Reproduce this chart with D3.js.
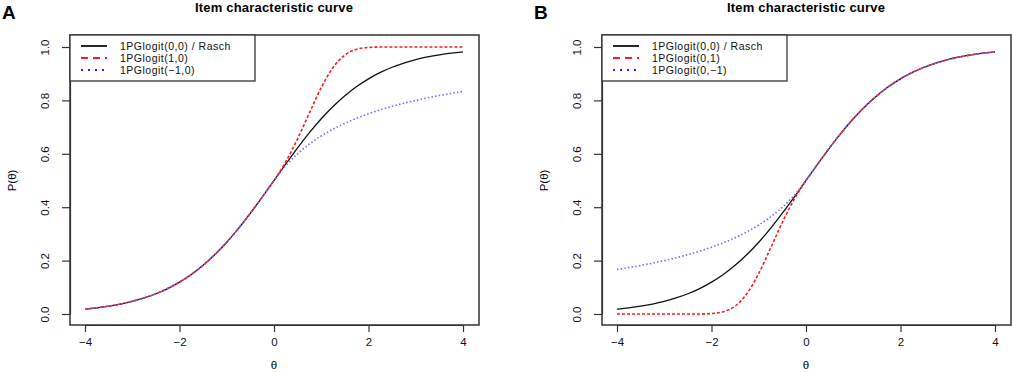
<!DOCTYPE html>
<html>
<head>
<meta charset="utf-8">
<script src="https://cdn.jsdelivr.net/npm/d3@7"></script>
<style>
  body { margin: 0; background: #fff; }
  svg { display: block; font-family: "Liberation Sans", Arial, sans-serif; }
</style>
</head>
<body>
<div id="chart"></div>
<script>
const width = 1013;
const height = 372;

// theta grid, step 0.25
const theta = [-4, -3.75, -3.5, -3.25, -3, -2.75, -2.5, -2.25, -2, -1.75, -1.5, -1.25, -1, -0.75, -0.5, -0.25,
    0, 0.25, 0.5, 0.75, 1, 1.25, 1.5, 1.75, 2, 2.25, 2.5, 2.75, 3, 3.25, 3.5, 3.75, 4];

// 1PGlogit(0,0) / Rasch
const rasch = [0.0180, 0.0230, 0.0293, 0.0373, 0.0474, 0.0601, 0.0759, 0.0953, 0.1192, 0.1480, 0.1824, 0.2227,
    0.2689, 0.3208, 0.3775, 0.4378, 0.5, 0.5622, 0.6225, 0.6792, 0.7311, 0.7773, 0.8176, 0.8520, 0.8808,
    0.9047, 0.9241, 0.9399, 0.9526, 0.9627, 0.9707, 0.9770, 0.9820];

// panel A
const a10 = [0.0180, 0.0230, 0.0293, 0.0373, 0.0474, 0.0601, 0.0759, 0.0953, 0.1192, 0.1480, 0.1824, 0.2227,
    0.2689, 0.3208, 0.3775, 0.4378, 0.5, 0.5705, 0.6567, 0.7534, 0.8479, 0.9235, 0.9701, 0.9915, 0.9983,
    0.9998, 1.0, 1.0, 1.0, 1.0, 1.0, 1.0, 1.0];
const aM10 = [0.0180, 0.0230, 0.0293, 0.0373, 0.0474, 0.0601, 0.0759, 0.0953, 0.1192, 0.1480, 0.1824, 0.2227,
    0.2689, 0.3208, 0.3775, 0.4378, 0.5, 0.5556, 0.6000, 0.6364, 0.6667, 0.6923, 0.7143, 0.7333, 0.7500,
    0.7647, 0.7778, 0.7895, 0.8000, 0.8095, 0.8182, 0.8261, 0.8333];

// panel B
const b01 = [0, 0, 0, 0, 0, 0, 0, 0.0002, 0.0017, 0.0085, 0.0299, 0.0765, 0.1521, 0.2466, 0.3433, 0.4295,
    0.5, 0.5622, 0.6225, 0.6792, 0.7311, 0.7773, 0.8176, 0.8520, 0.8808, 0.9047, 0.9241, 0.9399, 0.9526,
    0.9627, 0.9707, 0.9770, 0.9820];
const b0M1 = [0.1667, 0.1739, 0.1818, 0.1905, 0.2000, 0.2105, 0.2222, 0.2353, 0.2500, 0.2667, 0.2857, 0.3077,
    0.3333, 0.3636, 0.4000, 0.4444, 0.5, 0.5622, 0.6225, 0.6792, 0.7311, 0.7773, 0.8176, 0.8520, 0.8808,
    0.9047, 0.9241, 0.9399, 0.9526, 0.9627, 0.9707, 0.9770, 0.9820];

const xTicks = [-4, -2, 0, 2, 4];
const yTicks = [0, 0.2, 0.4, 0.6, 0.8, 1.0];

const styles = [
    { color: '#111', dash: null, legendDash: null, legendColor: '#111', width: 1.3 },
    { color: '#ff1a1a', dash: '3,2', legendDash: '7,5', legendColor: '#ff1a1a', width: 1.6 },
    { color: '#6f6fff', dash: '1.5,2.2', legendDash: '2,5', legendColor: '#2222ff', width: 1.6 }
];

const panels = [
    { letter: 'A', left: 70, series: [rasch, a10, aM10],
      names: ['1PGlogit(0,0) / Rasch', '1PGlogit(1,0)', '1PGlogit(\u22121,0)'] },
    { letter: 'B', left: 602, series: [rasch, b01, b0M1],
      names: ['1PGlogit(0,0) / Rasch', '1PGlogit(0,1)', '1PGlogit(0,\u22121)'] }
];

const svg = d3.select('#chart')
    .append('svg')
    .attr('width', width)
    .attr('height', height);

svg.append('rect').attr('width', width).attr('height', height).attr('fill', '#fff');

const boxW = 409;
const boxTop = 35;
const boxBottom = 325;

panels.forEach(p => {
    const g = svg.append('g');
    const x = d3.scaleLinear().domain([-4, 4]).range([p.left + 15, p.left + 393]);
    const y = d3.scaleLinear().domain([0, 1]).range([314, 47]);

    // x-axis
    const xAxis = g.append('g')
        .attr('transform', `translate(0,${boxBottom})`)
        .call(d3.axisBottom(x).tickValues(xTicks).tickSize(7).tickSizeOuter(0).tickPadding(6).tickFormat(d3.format('d')));
    xAxis.selectAll('text').attr('font-size', 11.5).attr('fill', '#111');

    // y-axis
    const yAxis = g.append('g')
        .attr('transform', `translate(${p.left},0)`)
        .call(d3.axisLeft(y).tickValues(yTicks).tickSize(8).tickSizeOuter(0).tickFormat(d3.format('.1f')));
    yAxis.selectAll('text')
        .attr('x', 0).attr('dy', '0.35em')
        .attr('text-anchor', 'middle')
        .attr('transform', 'translate(-25,0) rotate(-90)')
        .attr('font-size', 11.5).attr('fill', '#111');
    g.selectAll('.domain, .tick line').attr('stroke', '#333').attr('stroke-width', 1.2);

    // curves
    const line = d3.line()
        .x((d, i) => x(theta[i]))
        .y(d => y(d))
        .curve(d3.curveMonotoneX);

    p.series.forEach((s, i) => {
        g.append('path')
            .datum(s)
            .attr('d', line)
            .attr('fill', 'none')
            .attr('stroke', styles[i].color)
            .attr('stroke-width', styles[i].width)
            .attr('stroke-dasharray', styles[i].dash);
    });

    // box
    g.append('rect')
        .attr('x', p.left).attr('y', boxTop)
        .attr('width', boxW).attr('height', boxBottom - boxTop)
        .attr('fill', 'none').attr('stroke', '#333').attr('stroke-width', 1.5);

    // legend
    const lg = g.append('g').attr('transform', `translate(${p.left},${boxTop})`);
    lg.append('rect')
        .attr('width', 185).attr('height', 46)
        .attr('fill', '#fff').attr('stroke', '#333').attr('stroke-width', 1.3);
    p.names.forEach((name, i) => {
        const yy = 11 + i * 12;
        lg.append('line')
            .attr('x1', 11).attr('x2', 37).attr('y1', yy).attr('y2', yy)
            .attr('stroke', styles[i].legendColor)
            .attr('stroke-width', 1.8)
            .attr('stroke-dasharray', styles[i].legendDash);
        lg.append('text')
            .attr('x', 50).attr('y', yy).attr('dy', '0.35em')
            .attr('font-size', 10.5).attr('letter-spacing', 0.5).attr('fill', '#111')
            .text(name);
    });

    // titles and labels
    const cx = x(0);
    g.append('text')
        .attr('x', cx).attr('y', 12)
        .attr('text-anchor', 'middle')
        .attr('font-size', 13).attr('font-weight', 'bold')
        .attr('letter-spacing', 0.2)
        .text('Item characteristic curve');
    g.append('text')
        .attr('x', cx).attr('y', 369)
        .attr('text-anchor', 'middle')
        .attr('font-size', 11.5)
        .text('\u03b8');
    g.append('text')
        .attr('transform', `translate(${p.left - 58},${y(0.5)}) rotate(-90)`)
        .attr('text-anchor', 'middle').attr('dy', '0.35em')
        .attr('font-size', 11.5)
        .text('P(\u03b8)');
    g.append('text')
        .attr('x', p.left - 68).attr('y', 19)
        .attr('font-size', 19).attr('font-weight', 'bold')
        .text(p.letter);
});
</script>
</body>
</html>
